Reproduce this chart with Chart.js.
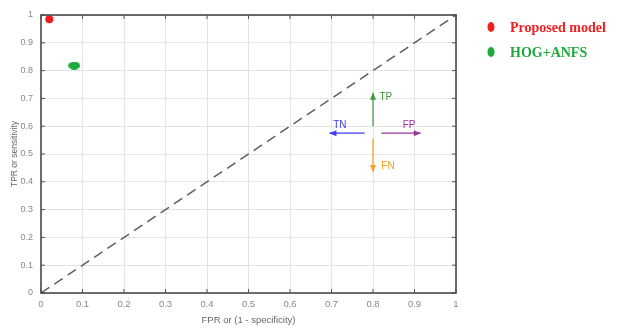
<!DOCTYPE html>
<html>
<head>
<meta charset="utf-8">
<script src="https://cdn.jsdelivr.net/npm/chart.js@4.4.1/dist/chart.umd.min.js"></script>
<style>
  body { margin: 0; background: #fff; }
  canvas { display: block; }
</style>
</head>
<body>
<canvas id="roc" width="635" height="329"></canvas>
<script>
// points (FPR, TPR)
const seriesNames = ["Proposed model", "HOG+ANFS"];
const seriesFPR = [0.02, 0.08];
const seriesTPR = [0.985, 0.818];

// chance diagonal
const diagX = [0, 1];
const diagY = [0, 1];

// TP / TN / FP / FN arrows
const arrowNames = ["TP", "TN", "FP", "FN"];
const arrowX0 = [0.8, 0.78, 0.82, 0.8];
const arrowY0 = [0.6, 0.575, 0.575, 0.555];
const arrowX1 = [0.8, 0.695, 0.915, 0.8];
const arrowY1 = [0.72, 0.575, 0.575, 0.435];
const arrowLabelX = [0.831, 0.72, 0.887, 0.836];
const arrowLabelY = [0.705, 0.604, 0.604, 0.457];

const seriesColors = ["#f01e1e", "#1fa83c"];
const arrowColors = ["#3c9a3c", "#3b3bf5", "#993399", "#f5a020"];

const tickFont = { family: "Liberation Sans, Arial", size: 9.5 };
const fmt = v => String(Number(v.toFixed(1)));

// green marker is a flat ellipse
function ellipse(w, h, color) {
  const c = document.createElement("canvas");
  c.width = w; c.height = h;
  const g = c.getContext("2d");
  g.fillStyle = color;
  g.beginPath();
  g.ellipse(w / 2, h / 2, w / 2, h / 2, 0, 0, Math.PI * 2);
  g.fill();
  return c;
}

const datasets = [
  {
    label: seriesNames[0],
    data: [{ x: seriesFPR[0], y: seriesTPR[0] }],
    backgroundColor: seriesColors[0],
    borderWidth: 0,
    pointRadius: 4
  },
  {
    label: seriesNames[1],
    data: [{ x: seriesFPR[1], y: seriesTPR[1] }],
    pointStyle: ellipse(12, 8, seriesColors[1]),
    pointRadius: 6
  },
  {
    label: "diag",
    data: diagX.map((x, i) => ({ x: x, y: diagY[i] })),
    showLine: true,
    borderColor: "#5e5e5e",
    borderWidth: 1.5,
    borderDash: [10, 6],
    pointRadius: 0
  }
];
arrowNames.forEach((n, i) => {
  datasets.push({
    label: n,
    data: [{ x: arrowX0[i], y: arrowY0[i] }, { x: arrowX1[i], y: arrowY1[i] }],
    showLine: true,
    borderColor: arrowColors[i],
    borderWidth: 1.2,
    pointRadius: 0
  });
});

const boxAndMarks = {
  id: "boxAndMarks",
  afterDatasetsDraw(chart) {
    const ctx = chart.ctx;
    const a = chart.chartArea;
    const xs = chart.scales.x, ys = chart.scales.y;
    ctx.save();

    // arrow heads + labels
    arrowNames.forEach((n, i) => {
      const px0 = xs.getPixelForValue(arrowX0[i]), py0 = ys.getPixelForValue(arrowY0[i]);
      const px1 = xs.getPixelForValue(arrowX1[i]), py1 = ys.getPixelForValue(arrowY1[i]);
      const ang = Math.atan2(py1 - py0, px1 - px0);
      ctx.fillStyle = arrowColors[i];
      ctx.beginPath();
      ctx.moveTo(px1, py1);
      ctx.lineTo(px1 - 7 * Math.cos(ang) + 3 * Math.sin(ang), py1 - 7 * Math.sin(ang) - 3 * Math.cos(ang));
      ctx.lineTo(px1 - 7 * Math.cos(ang) - 3 * Math.sin(ang), py1 - 7 * Math.sin(ang) + 3 * Math.cos(ang));
      ctx.closePath();
      ctx.fill();
      ctx.font = "10px Liberation Sans, Arial";
      ctx.textAlign = "center";
      ctx.textBaseline = "middle";
      ctx.fillText(n, xs.getPixelForValue(arrowLabelX[i]), ys.getPixelForValue(arrowLabelY[i]));
    });

    // inward ticks on all sides
    ctx.strokeStyle = "#555";
    ctx.lineWidth = 1;
    for (let k = 0; k <= 10; k++) {
      const px = xs.getPixelForValue(k / 10), py = ys.getPixelForValue(k / 10);
      ctx.beginPath();
      ctx.moveTo(px, a.bottom); ctx.lineTo(px, a.bottom - 4);
      ctx.moveTo(px, a.top); ctx.lineTo(px, a.top + 4);
      ctx.moveTo(a.left, py); ctx.lineTo(a.left + 4, py);
      ctx.moveTo(a.right, py); ctx.lineTo(a.right - 4, py);
      ctx.stroke();
    }
    ctx.strokeStyle = "#4a4a4a";
    ctx.lineWidth = 1.6;
    ctx.strokeRect(a.left, a.top, a.right - a.left, a.bottom - a.top);

    // legend
    const lx = 491, ly = [27, 52];
    seriesNames.forEach((n, i) => {
      ctx.fillStyle = seriesColors[i];
      ctx.beginPath();
      ctx.ellipse(lx, ly[i], 3.5, 5, 0, 0, Math.PI * 2);
      ctx.fill();
      ctx.font = "bold 14px Liberation Serif, Times New Roman";
      ctx.textAlign = "left";
      ctx.textBaseline = "middle";
      ctx.fillText(n, 510, ly[i] + 1);
    });
    ctx.restore();
  }
};

new Chart(document.getElementById("roc"), {
  type: "scatter",
  data: { datasets: datasets },
  options: {
    responsive: false,
    animation: false,
    clip: false,
    layout: { padding: { left: 0, right: 179, top: 15, bottom: 0 } },
    plugins: { legend: { display: false }, tooltip: { enabled: false } },
    scales: {
      x: {
        min: 0, max: 1,
        afterFit(s) { s.height = 36; },
        ticks: { stepSize: 0.1, color: "#888", font: tickFont, padding: 6, maxRotation: 0, callback: fmt },
        grid: { color: "#e4e4e4", drawTicks: false },
        border: { display: false },
        title: { display: true, text: "FPR or (1 - specificity)", color: "#666", font: { family: "Liberation Sans, Arial", size: 9.5 }, padding: { top: 0, bottom: 3 } }
      },
      y: {
        min: 0, max: 1,
        afterFit(s) { s.width = 41; },
        ticks: { stepSize: 0.1, color: "#888", font: { family: "Liberation Sans, Arial", size: 9 }, padding: 8, callback: fmt },
        grid: { color: "#e4e4e4", drawTicks: false },
        border: { display: false },
        title: { display: true, text: "TPR or sensitivity", color: "#666", font: { family: "Liberation Sans, Arial", size: 8.5 }, padding: { top: 10, bottom: 0 } }
      }
    }
  },
  plugins: [boxAndMarks]
});
</script>
</body>
</html>
